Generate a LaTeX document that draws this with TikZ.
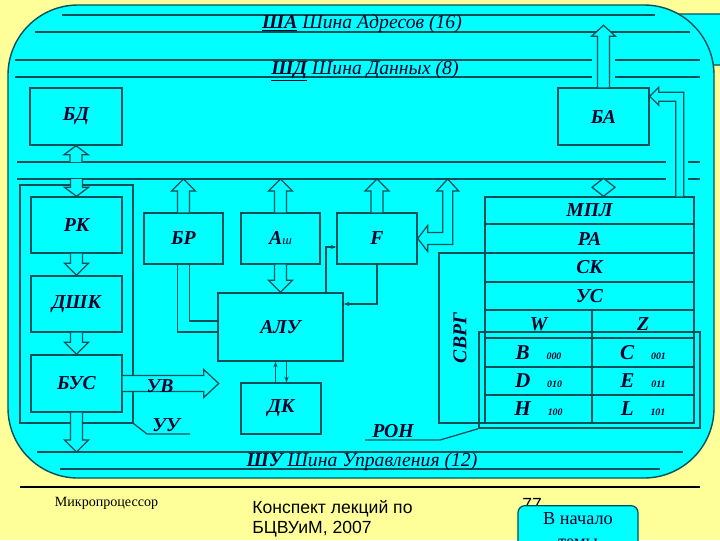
\documentclass[tikz,border=0pt]{standalone}
\usepackage{fontspec}
\setmainfont{Liberation Serif}
\setsansfont{Liberation Sans}
\usetikzlibrary{arrows.meta,calc,fit}

\definecolor{slideyellow}{RGB}{255,255,153}
\definecolor{panelcyan}{RGB}{0,255,255}
\definecolor{wire}{RGB}{0,80,90}
\definecolor{ink}{RGB}{0,0,40}

\tikzset{
  lbl/.style={text=ink, font=\bfseries\itshape\fontsize{14}{16}\selectfont, inner sep=1pt},
  blok/.style={draw=wire, fill=panelcyan, line width=1pt, inner sep=0pt, label={[lbl]center:#1}},
  grpbox/.style={draw=wire, line width=0.9pt, inner sep=0pt},
  busline/.style={draw=wire, line width=1pt},
  blk/.style={draw=wire, fill=panelcyan, line width=0.9pt},
  conn/.style={draw=wire, line width=0.9pt},
  link/.style={conn, -{Stealth[length=4pt,width=3pt]}},
  buslbl/.style={text=ink, font=\itshape\fontsize{14}{16}\selectfont, inner sep=0pt},
}

% hollow block arrows: #1 foot, #2 tip
\newcommand{\shaftw}{6}
\newcommand{\headw}{12}
\newcommand{\headl}{12}
\newcommand{\upblk}[2]{\draw[blk] ($(#1)+(-\shaftw,0)$) -- ($(#2)+(-\shaftw,\headl)$) -- ($(#2)+(-\headw,\headl)$) -- (#2)
  -- ($(#2)+(\headw,\headl)$) -- ($(#2)+(\shaftw,\headl)$) -- ($(#1)+(\shaftw,0)$);}
\newcommand{\downblk}[2]{\draw[blk] ($(#1)+(-\shaftw,0)$) -- ($(#2)+(-\shaftw,-\headl)$) -- ($(#2)+(-\headw,-\headl)$) -- (#2)
  -- ($(#2)+(\headw,-\headl)$) -- ($(#2)+(\shaftw,-\headl)$) -- ($(#1)+(\shaftw,0)$);}
\newcommand{\rightblk}[2]{\draw[blk] ($(#1)+(0,-\shaftw)$) -- ($(#2)+(-\headl,-\shaftw)$) -- ($(#2)+(-\headl,-\headw)$) -- (#2)
  -- ($(#2)+(-\headl,\headw)$) -- ($(#2)+(-\headl,\shaftw)$) -- ($(#1)+(0,\shaftw)$);}
\newcommand{\regname}[2]{{\fontsize{15}{16}\selectfont #1}\hspace{12pt}{\fontsize{7}{8}\selectfont #2}}

\begin{document}
\begin{tikzpicture}[x=0.025cm, y=-0.025cm]
    \clip (0,0) rectangle (720,540);
    \fill[slideyellow] (0,0) rectangle (720,540);

    % button hidden behind the panel
    \draw[blk, rounded corners=4pt] (652,14) rectangle (740,65);
    \draw[draw=wire, fill=panelcyan, line width=1pt, rounded corners=1.75cm] (8,5) rectangle (714,478);

    % buses
    \coordinate (busd1) at (0,162);
    \coordinate (busd2) at (0,179);
    \coordinate (shu1) at (0,452);
    \draw[busline] (62,15) -- (655,15) (35,32) -- (690,32);
    \draw[busline] (15,60) -- (592,60) (615,60) -- (700,60);
    \draw[busline] (15,77) -- (592,77) (615,77) -- (700,77);
    \draw[busline] (17,162) -- (666,162) (688,162) -- (700,162);
    \draw[busline] (17,179) -- (666,179) (688,179) -- (700,179);
    \draw[busline] (37,452) -- (683,452) (60,469) -- (660,469);
    \node[buslbl] (shalbl) at (362,24) {\textbf{\underline{ША}} Шина Адресов (16)};
    \node[buslbl] (shdlbl) at (365,71) {\textbf{\underline{ШД}} Шина Данных (8)};
    \node[buslbl] (shulbl) at (362,462) {\textbf{ШУ} Шина Управления (12)};

    % groups
    \node[grpbox, fit={(20,185) (133,423)}] (uu) {};
    \node[grpbox, fit={(439,253) (694,423)}] (svrg) {};

    % blocks
    \node[blok=БД, fit={(30,88) (122,145)}] (bd) {};
    \node[blok=БА, fit={(558,88) (649,145)}] (ba) {};
    \node[blok=РК, fit={(31,197) (122,253)}] (rk) {};
    \node[blok=ДШК, fit={(31,276) (122,332)}] (dshk) {};
    \node[blok=БУС, fit={(31,355) (122,412)}] (bus) {};
    \node[blok=БР, fit={(144,213) (223,264)}] (br) {};
    \node[blok={А{\mdseries\fontsize{9}{10}\selectfont ш}}, fit={(241,213) (320,264)}] (ash) {};
    \node[blok=F, fit={(337,213) (417,264)}] (f) {};
    \node[blok=АЛУ, fit={(218,293) (343,361)}] (alu) {};
    \node[blok=ДК, fit={(241,383) (321,434)}] (dk) {};

    % register stack
    \foreach \nm/\txt/\ya/\yb in {mpl/МПЛ/197/224, ra/РА/224/253, sk/СК/253/282, us/УС/282/310}
        \node[blok=\txt, fit={(485,\ya) (694,\yb)}] (\nm) {};
    \node[blok=W, fit={(485,310) (592,338)}] (w) {};
    \node[blok=Z, fit={(592,310) (694,338)}] (z) {};
    \foreach \nm/\rg/\cd/\xa/\xb/\ya/\yb in {rb/B/000/485/592/338/367, rc/C/001/592/694/338/367,
        rd/D/010/485/592/367/395, re/E/011/592/694/367/395, rh/H/100/485/592/395/423, rl/L/101/592/694/395/423}
        \node[blok={\regname{\rg}{\cd}}, fit={(\xa,\ya) (\xb,\yb)}] (\nm) {};
    \node[lbl, rotate=90] (svrglbl) at (460,338) {СВРГ};
    \node[grpbox, line width=1pt, fit={(479,332) (700,428)}] (ron) {};

    % block arrows
    {\renewcommand{\headl}{9}
    \upblk{bd.south |- busd1}{bd.south}
    \downblk{rk.north |- busd2}{rk.north}}
    \downblk{rk.south}{dshk.north}
    \downblk{dshk.south}{bus.north}
    \downblk{bus.south}{bus.south |- shu1}
    \upblk{br.north}{br.north |- busd2}
    \upblk{ash.north}{ash.north |- busd2}
    \upblk{f.north}{f.north |- busd2}
    \downblk{ash.south}{alu.north}
    \coordinate (batop) at ($(ba.north)+(0,-62)$);
    {\renewcommand{\headl}{11}
    \upblk{ba.north}{batop}}
    \coordinate (uvtip) at ($(bus.east)+(96,0)$);
    {\renewcommand{\shaftw}{8}\renewcommand{\headw}{14}\renewcommand{\headl}{15}
    \rightblk{bus.east}{uvtip}}
    \node[lbl] (uv) at (160,386) {УВ};

    % F <-> data bus
    \draw[blk] (f.east) -- ++(10,-13) -- ++(0,7) -- ++(15,0) -- ++(0,-41.5) -- ++(-6,0) -- ++(11,-12)
        -- ++(11,12) -- ++(-6,0) -- ++(0,53.5) -- ++(-25,0) -- ++(0,7) -- cycle;
    % MPL -> BA
    \coordinate (batip) at ($(ba.north east)+(0,9)$);
    \draw[blk] ($(mpl.north east)+(-19,0)$) |- ($(batip)+(9,5)$) -- ++(0,4) -- (batip)
        -- ($(batip)+(9,-9)$) -- ($(batip)+(9,-4)$) -| ($(mpl.north east)+(-11,0)$);
    % MPL <-> data bus
    \coordinate (dtip) at ($(mpl.north)+(14,0)$);
    \draw[blk] (dtip) -- ++(-11.5,-9) -- ++(11.5,-9) -- ++(11.5,9) -- cycle;

    % thin links
    \draw[conn] ($(br.south)+(-6,0)$) |- ($(alu.west)+(0,5)$);
    \draw[conn] ($(br.south)+(6,0)$) |- ($(alu.west)+(0,-6)$);
    \draw[link] ($(alu.north)+(45.5,0)$) |- ($(f.west)+(0,8.5)$);
    \draw[link] (f.south) |- ($(alu.east)+(0,-23)$);
    \coordinate (dkl) at ($(dk.north)+(-5.5,0)$);
    \coordinate (dkr) at ($(dk.north)+(5.5,0)$);
    \draw[link] (dkl) -- (dkl |- alu.south);
    \draw[link] (dkr |- alu.south) -- (dkr);

    % leaders
    \coordinate (uuend) at (190,434);
    \draw[conn] (uu.south east) -- (147,434) -- (uuend);
    \node[lbl, anchor=south] (uulbl) at (166,433) {УУ};
    \coordinate (ronend) at (365,440);
    \draw[conn] (ron.south west) -- (440,440) -- (ronend);
    \node[lbl, anchor=south] (ronlbl) at (393,439) {РОН};

    % footer
    \draw[black, line width=0.8pt] (20,487) -- (700,487);
    \node[font=\fontsize{10}{12}\selectfont, anchor=west] (topic) at (50,503) {Микропроцессор};
    \node[font=\sffamily\fontsize{12.5}{14.2}\selectfont, align=left, anchor=north west, inner sep=0pt] (course) at (252,500) {Конспект лекций по\\БЦВУиМ, 2007};
    \node[font=\sffamily\fontsize{12.5}{14}\selectfont, anchor=north west, inner sep=0pt] (pageno) at (522,498) {77};
    \node[blk, rounded corners=5pt, minimum width=3cm, anchor=north, align=center, inner ysep=5pt,
        text=ink, font=\fontsize{13}{16}\selectfont] (home) at (578,505) {В начало\\темы};
\end{tikzpicture}
\end{document}
